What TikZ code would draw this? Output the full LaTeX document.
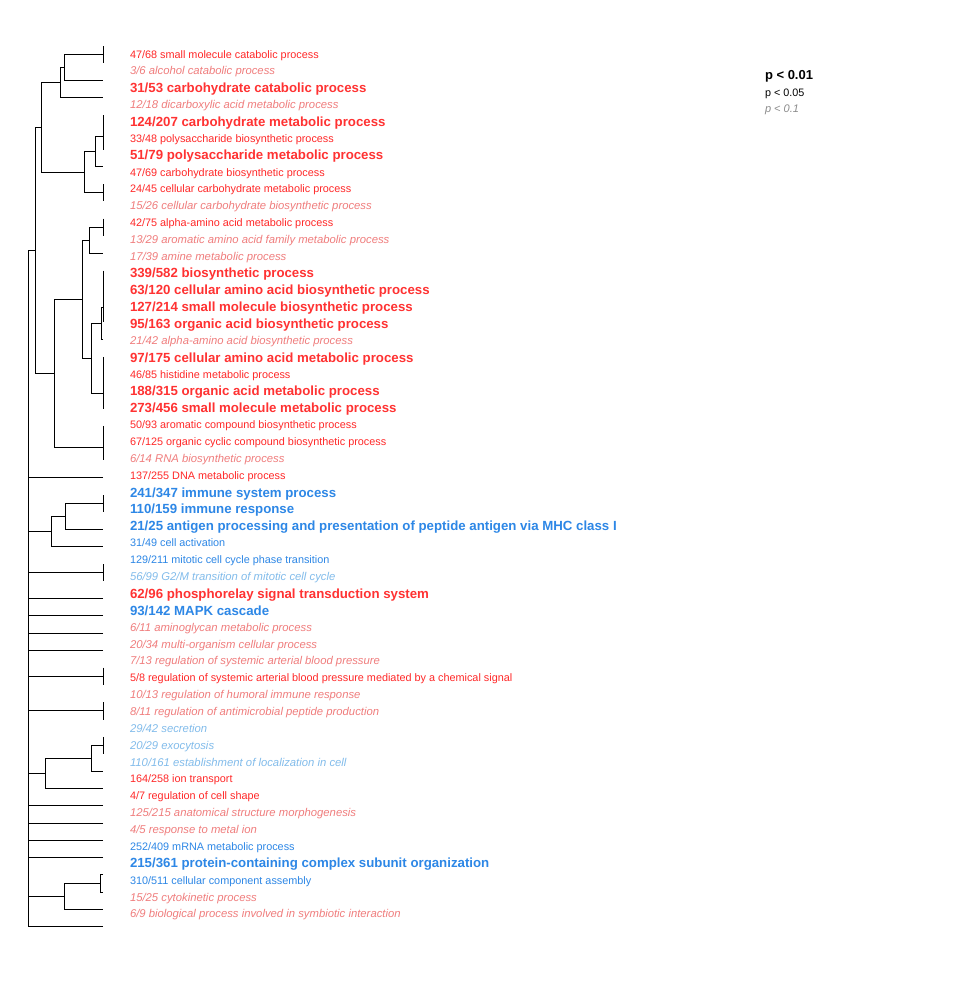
\documentclass[tikz,border=0pt]{standalone}
\usepackage{fontspec}
\setmainfont{Liberation Sans}
\usetikzlibrary{calc}
\definecolor{redB}{RGB}{255,50,50}
\definecolor{redN}{RGB}{255,40,40}
\definecolor{redI}{RGB}{240,125,125}
\definecolor{bluB}{RGB}{45,135,230}
\definecolor{bluN}{RGB}{45,135,230}
\definecolor{bluI}{RGB}{130,188,235}
\definecolor{legI}{RGB}{140,140,140}
\tikzset{
  lab/.style={anchor=base west, inner sep=0pt, outer sep=0pt},
  Nr/.style={lab, font=\fontsize{10.85}{13}\selectfont, text=redN, yshift=-4pt},
  Ir/.style={lab, font=\fontsize{11.3}{13}\selectfont\itshape, text=redI, yshift=-4pt},
  Br/.style={lab, font=\fontsize{13.25}{15}\selectfont\bfseries, text=redB, yshift=-4.7pt},
  Nb/.style={lab, font=\fontsize{10.85}{13}\selectfont, text=bluN, yshift=-4pt},
  Ib/.style={lab, font=\fontsize{11.3}{13}\selectfont\itshape, text=bluI, yshift=-4pt},
  Bb/.style={lab, font=\fontsize{13.25}{15}\selectfont\bfseries, text=bluB, yshift=-4.7pt},
  Nk/.style={lab, font=\fontsize{10.8}{13}\selectfont, text=black, yshift=-4pt},
  Ik/.style={lab, font=\fontsize{11}{13}\selectfont\itshape, text=legI, yshift=-4pt},
  Bk/.style={lab, font=\fontsize{13}{15}\selectfont\bfseries, text=black, yshift=-4.6pt},
  tree/.style={draw=black, line width=1pt}
}
\newcommand\lab[3]{\node[#2] (t#1) at (130,{54+(#1-1)*16.86}) {#3};}
\newcommand\mrg[4]{\coordinate (hx) at (#3,0);
  \draw[tree] (#1) -- (#1 -| hx) -- (#2 -| hx) -- (#2);
  \coordinate (#4) at ($(#1 -| hx)!0.5!(#2 -| hx)$);}
\begin{document}
\begin{tikzpicture}[x=1pt,y=-1pt]
\fill[white] (0,0) rectangle (958,988);
\useasboundingbox (0,0) rectangle (958,988);
% leaves
\foreach \i in {1,...,52} \coordinate (l\i) at (103,{46+(\i-1)*17.27});
% top cluster
\mrg{l1}{l2}{103}{m1}
\mrg{m1}{l3}{64}{m2}
\mrg{m2}{l4}{60}{m3}
\mrg{l5}{l6}{103}{m4}
\mrg{m4}{l7}{103}{m5}
\mrg{m5}{l8}{95}{m6}
\mrg{l9}{l10}{103}{m7}
\mrg{m6}{m7}{84}{m8}
\mrg{m3}{m8}{41}{m9}
\mrg{l11}{l12}{103}{m10}
\mrg{m10}{l13}{89}{m11}
\mrg{l14}{l15}{103}{m12}
\mrg{m12}{l16}{103}{m13}
\mrg{m13}{l17}{103}{m14}
\mrg{m14}{l18}{101}{m15}
\mrg{l19}{l20}{103}{m16}
\mrg{m16}{l21}{103}{m17}
\mrg{m17}{l22}{103}{m18}
\mrg{m15}{m18}{91}{m19}
\mrg{m11}{m19}{82}{m20}
\mrg{l23}{l24}{103}{m21}
\mrg{m21}{l25}{103}{m22}
\mrg{m20}{m22}{54}{m23}
\mrg{m9}{m23}{35}{m24}
% other clusters
\mrg{l27}{l28}{103}{m25}
\mrg{m25}{l29}{65}{m26}
\mrg{m26}{l30}{51}{m27}
\mrg{l31}{l32}{103}{m28}
\mrg{l37}{l38}{103}{m29}
\mrg{l39}{l40}{103}{m30}
\mrg{l41}{l42}{103}{m31}
\mrg{m31}{l43}{91}{m32}
\mrg{m32}{l44}{45}{m33}
\mrg{l49}{l50}{100}{m34}
\mrg{m34}{l51}{64}{m35}
% root
\coordinate (hr) at (28,0);
\draw[tree] (m24 -| hr) -- (l52 -| hr);
\foreach \c in {m24,l26,m27,m28,l33,l34,l35,l36,m29,m30,m33,l45,l46,l47,l48,m35,l52}
  \draw[tree] (\c) -- (\c -| hr);
% labels
\lab{1}{Nr}{47/68 small molecule catabolic process}
\lab{2}{Ir}{3/6 alcohol catabolic process}
\lab{3}{Br}{31/53 carbohydrate catabolic process}
\lab{4}{Ir}{12/18 dicarboxylic acid metabolic process}
\lab{5}{Br}{124/207 carbohydrate metabolic process}
\lab{6}{Nr}{33/48 polysaccharide biosynthetic process}
\lab{7}{Br}{51/79 polysaccharide metabolic process}
\lab{8}{Nr}{47/69 carbohydrate biosynthetic process}
\lab{9}{Nr}{24/45 cellular carbohydrate metabolic process}
\lab{10}{Ir}{15/26 cellular carbohydrate biosynthetic process}
\lab{11}{Nr}{42/75 alpha-amino acid metabolic process}
\lab{12}{Ir}{13/29 aromatic amino acid family metabolic process}
\lab{13}{Ir}{17/39 amine metabolic process}
\lab{14}{Br}{339/582 biosynthetic process}
\lab{15}{Br}{63/120 cellular amino acid biosynthetic process}
\lab{16}{Br}{127/214 small molecule biosynthetic process}
\lab{17}{Br}{95/163 organic acid biosynthetic process}
\lab{18}{Ir}{21/42 alpha-amino acid biosynthetic process}
\lab{19}{Br}{97/175 cellular amino acid metabolic process}
\lab{20}{Nr}{46/85 histidine metabolic process}
\lab{21}{Br}{188/315 organic acid metabolic process}
\lab{22}{Br}{273/456 small molecule metabolic process}
\lab{23}{Nr}{50/93 aromatic compound biosynthetic process}
\lab{24}{Nr}{67/125 organic cyclic compound biosynthetic process}
\lab{25}{Ir}{6/14 RNA biosynthetic process}
\lab{26}{Nr}{137/255 DNA metabolic process}
\lab{27}{Bb}{241/347 immune system process}
\lab{28}{Bb}{110/159 immune response}
\lab{29}{Bb}{21/25 antigen processing and presentation of peptide antigen via MHC class I}
\lab{30}{Nb}{31/49 cell activation}
\lab{31}{Nb}{129/211 mitotic cell cycle phase transition}
\lab{32}{Ib}{56/99 G2/M transition of mitotic cell cycle}
\lab{33}{Br}{62/96 phosphorelay signal transduction system}
\lab{34}{Bb}{93/142 MAPK cascade}
\lab{35}{Ir}{6/11 aminoglycan metabolic process}
\lab{36}{Ir}{20/34 multi-organism cellular process}
\lab{37}{Ir}{7/13 regulation of systemic arterial blood pressure}
\lab{38}{Nr}{5/8 regulation of systemic arterial blood pressure mediated by a chemical signal}
\lab{39}{Ir}{10/13 regulation of humoral immune response}
\lab{40}{Ir}{8/11 regulation of antimicrobial peptide production}
\lab{41}{Ib}{29/42 secretion}
\lab{42}{Ib}{20/29 exocytosis}
\lab{43}{Ib}{110/161 establishment of localization in cell}
\lab{44}{Nr}{164/258 ion transport}
\lab{45}{Nr}{4/7 regulation of cell shape}
\lab{46}{Ir}{125/215 anatomical structure morphogenesis}
\lab{47}{Ir}{4/5 response to metal ion}
\lab{48}{Nb}{252/409 mRNA metabolic process}
\lab{49}{Bb}{215/361 protein-containing complex subunit organization}
\lab{50}{Nb}{310/511 cellular component assembly}
\lab{51}{Ir}{15/25 cytokinetic process}
\lab{52}{Ir}{6/9 biological process involved in symbiotic interaction}
% legend
\node[Bk] (p1) at (765,75) {p < 0.01};
\node[Nk] (p2) at (765,92) {p < 0.05};
\node[Ik] (p3) at (765,108) {p < 0.1};
\end{tikzpicture}
\end{document}
